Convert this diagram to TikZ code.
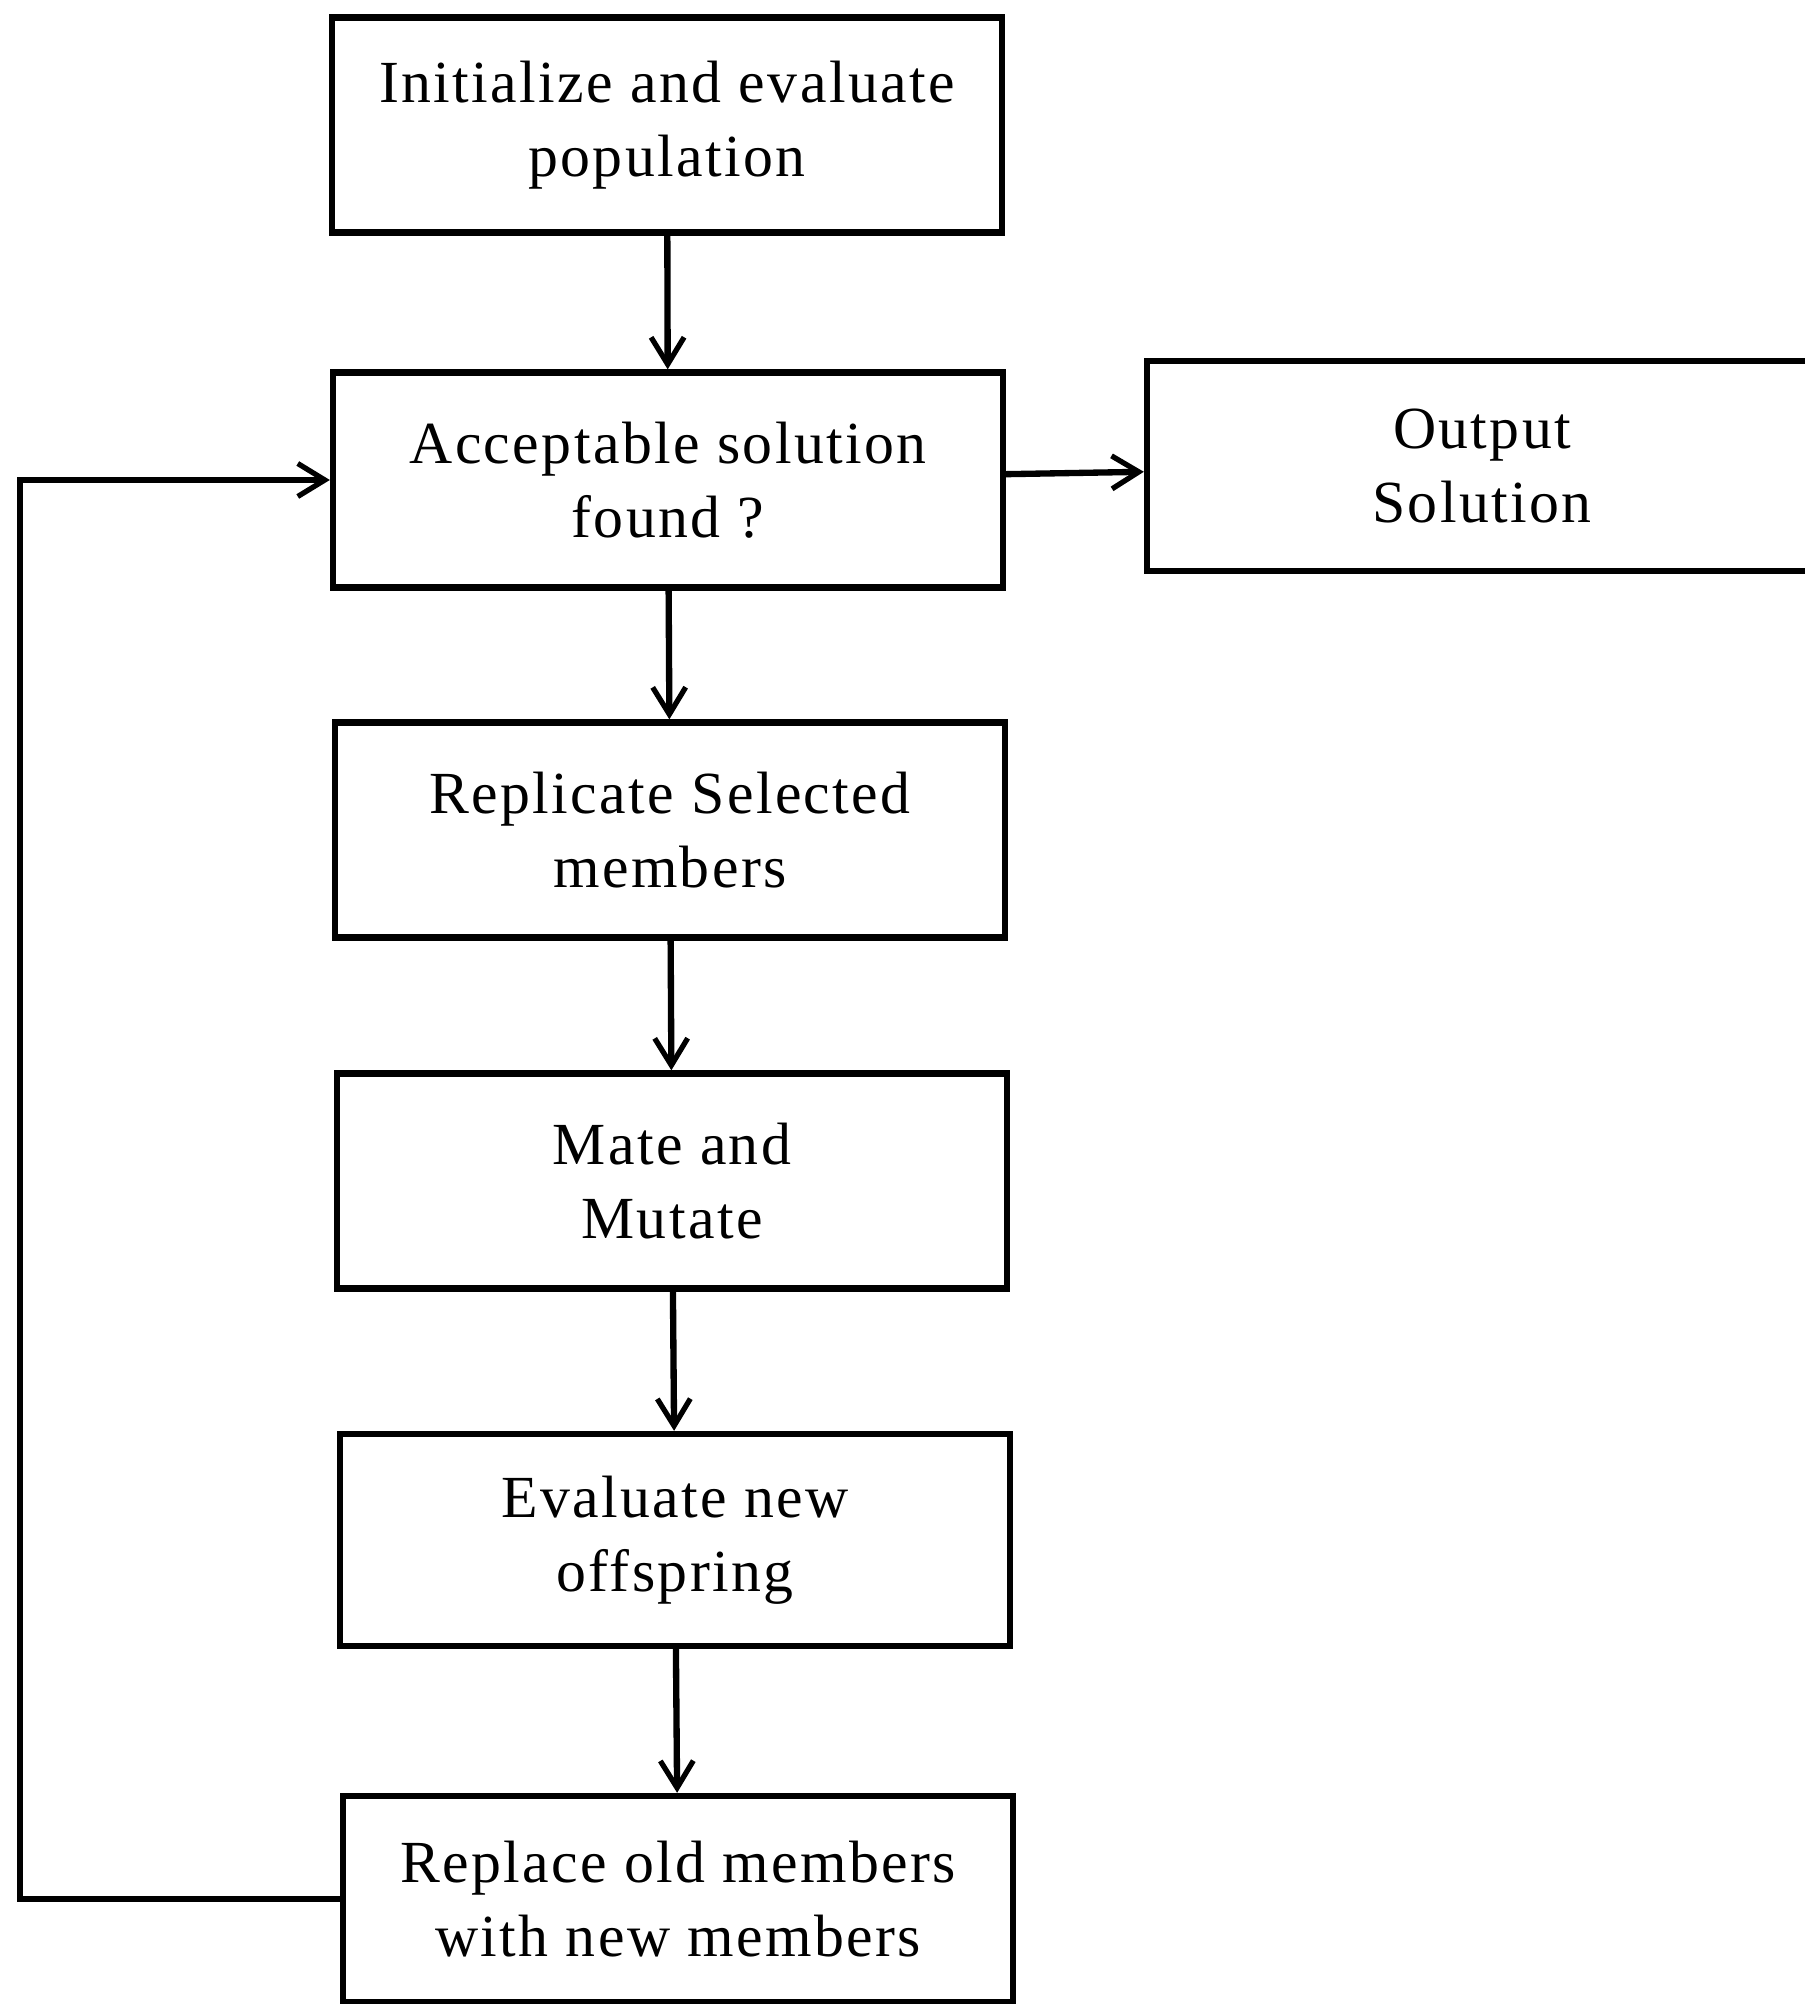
\documentclass[tikz,border=0pt]{standalone}
\usepackage{fontspec}
\setmainfont[LetterSpace=4]{Liberation Serif}
\usetikzlibrary{arrows.meta, positioning}

\begin{document}
\begin{tikzpicture}[
  box/.style={draw, line width=1.8pt, minimum width=6.7cm, minimum height=2.15cm,
              align=center, font=\fontsize{17}{21}\selectfont},
  arr/.style={-{Straight Barb[length=2.7mm, width=3.3mm, line width=1.5pt]}, line width=1.8pt},
]
\useasboundingbox (0,0) rectangle (18.05,-20.04);
\node[box] (init) at (6.67,-1.25) {Initialize and evaluate\\population};
\node[box] (accept) at (6.68,-4.80) {Acceptable solution\\found ?};
\node[box, minimum height=2.1cm] (output) at (14.82,-4.66) {Output\\Solution};
\node[box] (replicate) at (6.70,-8.30) {Replicate Selected\\members};
\node[box] (mate) at (6.72,-11.81) {Mate and\\Mutate};
\node[box, minimum height=2.12cm] (evaluate) at (6.75,-15.40) {Evaluate new\\offspring};
\node[box, minimum height=2.06cm] (replace) at (6.78,-18.99) {Replace old members\\with new members};
\coordinate (loop) at (0.2,-18.99);

\draw[arr] (init) -- (accept);
\draw[arr] (accept) -- (output);
\draw[arr] (accept) -- (replicate);
\draw[arr] (replicate) -- (mate);
\draw[arr] (mate) -- (evaluate);
\draw[arr] (evaluate) -- (replace);
\draw[arr] (replace.west) -- (loop) |- (accept.west);
\end{tikzpicture}
\end{document}
